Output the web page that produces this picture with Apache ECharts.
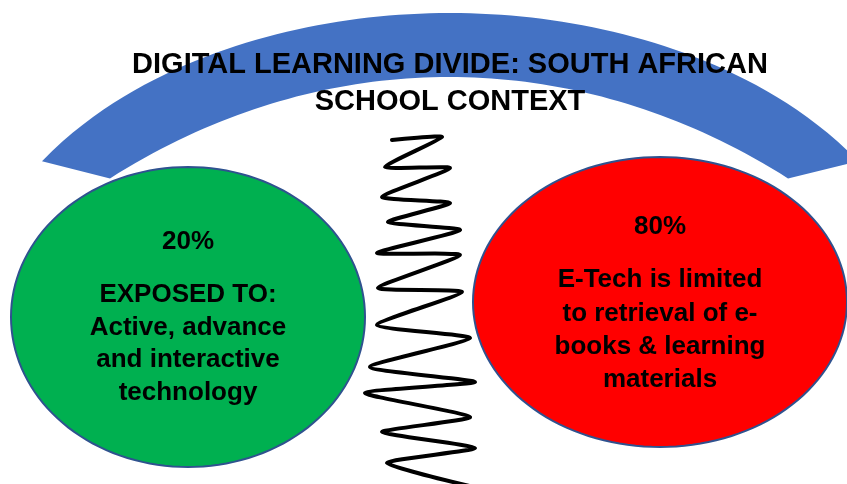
<!DOCTYPE html>
<html>
<head>
<meta charset="utf-8">
<title>Digital learning divide</title>
<script src="https://cdn.jsdelivr.net/npm/echarts@6/dist/echarts.min.js"></script>
<style>
  html, body { margin: 0; padding: 0; background: #fff; }
  #main { width: 847px; height: 484px; }
</style>
</head>
<body>
<div id="main"></div>
<script>
// text content
var titleLines = ['DIGITAL LEARNING DIVIDE: SOUTH AFRICAN', 'SCHOOL CONTEXT'];
var shares = [20, 80];
var groupText = [
  ['EXPOSED TO:', 'Active, advance', 'and interactive', 'technology'],
  ['E-Tech is limited', 'to retrieval of e-', 'books & learning', 'materials']
];

// shapes (x, y in picture pixels)
var ellipseCx = [188, 660];
var ellipseCy = [317, 302];
var ellipseRx = [177, 187];
var ellipseRy = [150, 145];
// arch edges: cx, cy, rx, ry, first x, last x
var archOuter = [450, 330, 482, 317, 42, 858];
var archInner = [449, 1000, 744, 923, 110, 788];
// turning points of the spring
var springX = [392, 442, 385, 450, 382, 450, 388, 460, 377, 460, 378, 462, 377, 470, 370, 475, 365, 470, 382, 475, 387, 478];
var springY = [140, 137, 167, 168, 197, 203, 222, 230, 253, 255, 288, 292, 325, 338, 367, 382, 393, 417, 432, 448, 463, 488];

var colors = ['#00b050', '#ff0000'];
var fontFamily = 'Liberation Sans';

function edgeY(e, x) {
  var t = (x - e[0]) / e[2];
  return e[1] - e[3] * Math.sqrt(Math.max(0, 1 - t * t));
}

function textEl(text, p, size, lh) {
  return {
    type: 'text',
    style: {
      text: text, x: p[0], y: p[1],
      align: 'center', verticalAlign: 'middle', lineHeight: lh,
      fontFamily: fontFamily, fontWeight: 'bold', fontSize: size, fill: '#000'
    }
  };
}

function renderArch(params, api) {
  var pts = [];
  var n = 80, i, x;
  for (i = 0; i <= n; i++) {
    x = archOuter[4] + (archOuter[5] - archOuter[4]) * i / n;
    pts.push(api.coord([x, edgeY(archOuter, x)]));
  }
  for (i = 0; i <= n; i++) {
    x = archInner[5] - (archInner[5] - archInner[4]) * i / n;
    pts.push(api.coord([x, edgeY(archInner, x)]));
  }
  return {
    type: 'group',
    children: [
      { type: 'polygon', shape: { points: pts }, style: { fill: '#4472c4' } },
      textEl(titleLines.join('\n'), api.coord([450, 83]), 29, 37)
    ]
  };
}

function renderBubble(params, api) {
  var i = params.dataIndex;
  var pts = [];
  for (var k = 0; k < 144; k++) {
    var a = k / 144 * Math.PI * 2;
    pts.push(api.coord([ellipseCx[i] + ellipseRx[i] * Math.cos(a), ellipseCy[i] + ellipseRy[i] * Math.sin(a)]));
  }
  return {
    type: 'group',
    children: [
      { type: 'polygon', shape: { points: pts }, style: { fill: colors[i], stroke: '#2f528f', lineWidth: 2 } },
      textEl(shares[i] + '%', api.coord([ellipseCx[i], [242, 227][i]]), 26, 30),
      textEl(groupText[i].join('\n'), api.coord([ellipseCx[i], [344, 330][i]]), 26, [32.5, 33.3][i])
    ]
  };
}

function renderSpring(params, api) {
  var pts = springX.map(function (x, i) { return api.coord([x, springY[i]]); });
  return {
    type: 'polyline',
    shape: { points: pts, smooth: 0.18 },
    style: { stroke: '#000', lineWidth: 4, fill: null, lineJoin: 'round', lineCap: 'round' }
  };
}

var myChart = echarts.init(document.getElementById('main'));
var option = {
  animation: false,
  grid: { left: 0, right: 0, top: 0, bottom: 0 },
  xAxis: { type: 'value', min: 0, max: 847, show: false },
  yAxis: { type: 'value', min: 0, max: 484, inverse: true, show: false },
  series: [
    { type: 'custom', renderItem: renderArch, data: [[0]], z: 1, silent: true },
    {
      type: 'custom',
      renderItem: renderBubble,
      data: shares.map(function (v, i) { return [ellipseCx[i], ellipseCy[i], v]; }),
      z: 2,
      silent: true
    },
    { type: 'custom', renderItem: renderSpring, data: [[0]], z: 3, silent: true, clip: false }
  ]
};
myChart.setOption(option);
</script>
</body>
</html>
